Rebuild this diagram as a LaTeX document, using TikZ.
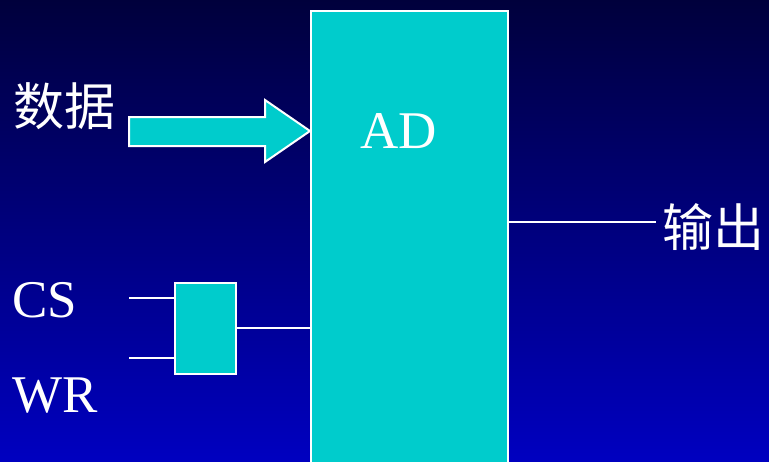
\documentclass[tikz,border=0pt]{standalone}
\usepackage{fontspec}
\setmainfont{Liberation Serif}
\newfontfamily\cjk{Noto Sans CJK SC}
\begin{document}
\begin{tikzpicture}[x=1pt,y=-1pt,
  wire/.style={white,line width=2pt},
  cyanbox/.style={fill=boxcyan,draw=white,line width=2pt,inner sep=0pt},
  label/.style={white,inner sep=0pt,font=\fontsize{53}{63}\selectfont},
  cjklabel/.style={white,inner sep=0pt,font=\cjk\fontsize{51}{60}\selectfont}]
\definecolor{boxcyan}{RGB}{0,204,204}
\definecolor{bgtop}{RGB}{0,0,60}
\definecolor{bgbot}{RGB}{0,0,192}
% backdrop
\useasboundingbox (0,0) rectangle (769,461);
\shade[top color=bgtop,bottom color=bgbot] (0,0) rectangle (769,461);
\clip (0,0) rectangle (769,461);
% converter block
\node[cyanbox,minimum width=197pt,minimum height=470pt,anchor=north west] (ad) at (310,10) {};
\node[label,anchor=base] (adtxt) at (399,148) {AD};
% gate combining CS and WR
\node[cyanbox,minimum width=61pt,minimum height=91pt,anchor=north west] (gate) at (174,282) {};
% data input arrow
\coordinate (tip) at (310,131);
\draw[fill=boxcyan,draw=white,line width=2pt,line join=miter]
  (129,117) -- (265,117) -- (265,100) -- (tip) -- (265,162) -- (265,146) -- (129,146) -- cycle;
\node[cjklabel] (data) at (64,106) {数据};
% control inputs
\node[label,anchor=base west] (cs) at (12,317) {CS};
\node[label,anchor=base west] (wr) at (12,412) {WR};
\coordinate (csin) at (129,298);
\coordinate (wrin) at (129,358);
\draw[wire] (csin) -- (csin -| gate.west);
\draw[wire] (wrin) -- (wrin -| gate.west);
\draw[wire] (gate.east |- 0,328) -- (ad.west |- 0,328);
% output
\node[cjklabel,anchor=west] (out) at (662,227) {输出};
\draw[wire] (ad.east |- 0,222) -- ++(147,0) coordinate (outend);
\end{tikzpicture}
\end{document}
